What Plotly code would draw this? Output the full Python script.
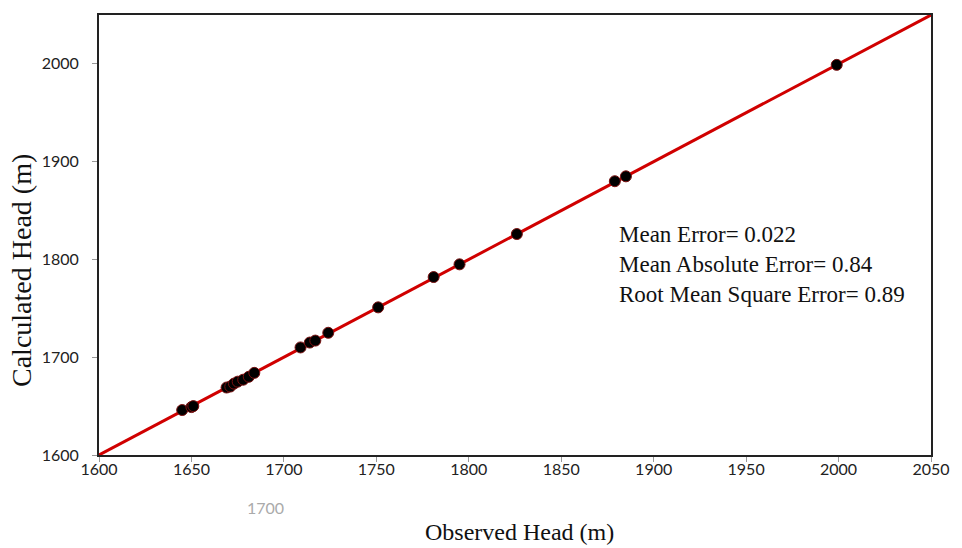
import plotly.graph_objects as go

observed = [1645, 1650, 1651, 1669, 1671, 1673, 1675, 1678, 1681, 1684,
            1709, 1714, 1717, 1724, 1751, 1781, 1795, 1826, 1879, 1885, 1999]
calculated = [1646, 1649, 1650, 1669, 1670, 1673, 1675, 1677, 1680, 1684,
              1710, 1715, 1717, 1725, 1751, 1782, 1795, 1826, 1880, 1885, 1999]
line_x = [1600, 2050]
line_y = [1600, 2050]
x_ticks = [1600, 1650, 1700, 1750, 1800, 1850, 1900, 1950, 2000, 2050]
y_ticks = [1600, 1700, 1800, 1900, 2000]
stats_lines = ["Mean Error= 0.022", "Mean Absolute Error= 0.84", "Root Mean Square Error= 0.89"]

fig = go.Figure()
fig.add_trace(go.Scatter(x=line_x, y=line_y, mode="lines",
                         line=dict(color="#d00000", width=3), showlegend=False))
fig.add_trace(go.Scatter(x=observed, y=calculated, mode="markers",
                         marker=dict(color="black", size=11,
                                     line=dict(color="#7a1010", width=1)),
                         showlegend=False))

serif = "Liberation Serif"
fig.add_annotation(xref="paper", yref="paper", x=0.622, y=0.432,
                   xanchor="left", yanchor="middle", align="left", showarrow=False,
                   text="<br>".join(stats_lines),
                   font=dict(family=serif, size=23, color="#111"))
fig.add_annotation(xref="paper", yref="paper", x=0.2, y=-0.12,
                   xanchor="center", yanchor="middle", showarrow=False,
                   text="1700", font=dict(family="Lato", size=16, color="#aaaaaa"))
fig.add_annotation(xref="paper", yref="paper", x=0.505, y=-0.176,
                   xanchor="center", yanchor="middle", showarrow=False,
                   text="Observed Head (m)", font=dict(family=serif, size=24, color="#111"))
fig.add_annotation(xref="paper", yref="paper", x=-0.094, y=0.42,
                   xanchor="center", yanchor="middle", showarrow=False, textangle=-90,
                   text="Calculated Head (m)", font=dict(family=serif, size=28, color="#111"))

axis_common = dict(showgrid=False, zeroline=False, showline=True, mirror=True,
                   linecolor="#222", linewidth=2, ticks="outside", ticklen=5,
                   tickcolor="#999", tickwidth=1,
                   tickfont=dict(family="Lato", size=16, color="#222"))
fig.update_xaxes(range=[1600, 2050], tickvals=x_ticks, ticklabelstandoff=-6, **axis_common)
fig.update_yaxes(range=[1600, 2050], tickvals=y_ticks, ticklabelstandoff=10, **axis_common)

fig.update_layout(width=962, height=548, margin=dict(l=99, r=19, t=15, b=93),
                  plot_bgcolor="white", paper_bgcolor="white")
fig.write_html("out.html", config={"displayModeBar": False},
               post_script="document.body.style.margin='0';"
                           "document.body.style.overflow='hidden';"
                           "document.documentElement.style.overflow='hidden';")
